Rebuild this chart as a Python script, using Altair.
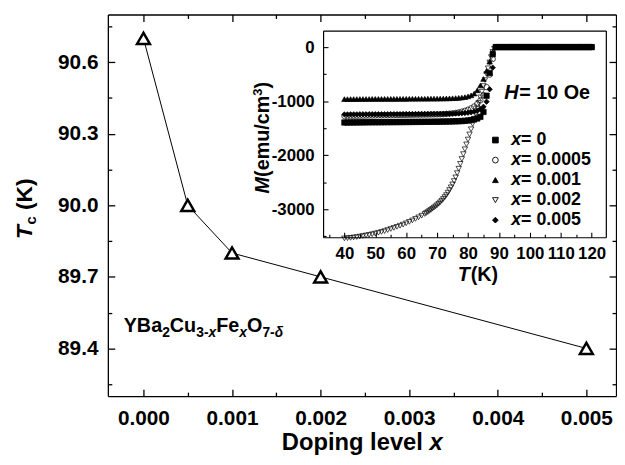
import altair as alt
import pandas as pd

FONT = "Liberation Sans"

# ---------------- main panel: Tc versus doping level ----------------
doping = [0.0, 0.0005, 0.001, 0.002, 0.005]
tc_k = [90.7, 90.0, 89.8, 89.7, 89.4]
x_label_values = [0.0, 0.001, 0.002, 0.003, 0.004, 0.005]
x_tick_values = [0.0, 0.0005, 0.001, 0.0015, 0.002, 0.0025, 0.003, 0.0035, 0.004, 0.0045, 0.005]
y_label_values = [89.4, 89.7, 90.0, 90.3, 90.6]
y_tick_values = [89.25, 89.4, 89.55, 89.7, 89.85, 90.0, 90.15, 90.3, 90.45, 90.6, 90.75]

# ---------------- inset: M(T) curves ----------------
temperature = [40, 41, 42, 43, 44, 45, 46, 47, 48, 49,
               50, 51, 52, 53, 54, 55, 56, 57, 58, 59,
               60, 61, 62, 63, 64, 65, 66, 67, 68, 69,
               70, 71, 72, 73, 74, 75, 76, 77, 78, 79,
               80, 81, 82, 83, 84, 85, 86, 87, 88, 89,
               90, 91, 92, 93, 94, 95, 96, 97, 98, 99,
               100, 101, 102, 103, 104, 105, 106, 107, 108, 109,
               110, 111, 112, 113, 114, 115, 116, 117, 118, 119, 120]
# the x = 0.002 curve is read more finely in its steep part
temperature_x0002 = [40, 41, 42, 43, 44, 45, 46, 47, 48, 49,
                     50, 51, 52, 53, 54, 55, 56, 57, 58, 59,
                     60, 61, 62, 63, 64, 65,
                     66, 66.5, 67, 67.5, 68, 68.5, 69, 69.5, 70, 70.5,
                     71, 71.5, 72, 72.5, 73, 73.5, 74, 74.5, 75, 75.5,
                     76, 76.5, 77, 77.5, 78, 78.5, 79, 79.5, 80, 80.5,
                     81, 81.5, 82, 82.5, 83, 83.5, 84, 84.5, 85, 85.5,
                     86, 86.5, 87, 87.5, 88, 88.5,
                     89, 90, 91, 92, 93, 94, 95, 96, 97, 98, 99,
                     100, 101, 102, 103, 104, 105, 106, 107, 108, 109,
                     110, 111, 112, 113, 114, 115, 116, 117, 118, 119, 120]
above_tc = [0] * 32  # M is zero from 89 K to 120 K

m_x0 = [-1395, -1395, -1394, -1394, -1393, -1393, -1392, -1392, -1391, -1391,
        -1390, -1390, -1389, -1389, -1388, -1388, -1387, -1387, -1386, -1386,
        -1385, -1385, -1384, -1384, -1383, -1383, -1382, -1382, -1381, -1380,
        -1380, -1379, -1378, -1377, -1376, -1375, -1373, -1371, -1368, -1364,
        -1358, -1350, -1338, -1320, -1290, -1200, -900, -480, -130] + above_tc
m_x00005 = [-1275, -1274, -1273, -1272, -1271, -1270, -1269, -1268, -1267, -1266,
            -1265, -1264, -1263, -1262, -1261, -1260, -1259, -1258, -1257, -1256,
            -1255, -1254, -1253, -1252, -1251, -1250, -1249, -1248, -1247, -1246,
            -1245, -1243, -1240, -1236, -1231, -1225, -1217, -1207, -1194, -1178,
            -1158, -1132, -1098, -1052, -985, -890, -740, -510, -220] + above_tc
m_x0001 = [-962, -962, -961, -961, -961, -960, -960, -960, -960, -959,
           -959, -959, -959, -958, -958, -958, -958, -957, -957, -957,
           -957, -956, -956, -956, -955, -955, -955, -954, -954, -953,
           -953, -952, -951, -950, -948, -946, -943, -939, -933, -925,
           -912, -892, -860, -800, -710, -590, -440, -270, -90] + above_tc
m_x0002 = [-3540, -3535, -3530, -3522, -3515, -3505, -3495, -3485, -3475, -3462,
           -3450, -3435, -3420, -3405, -3385, -3365, -3345, -3325, -3305, -3285,
           -3260, -3234, -3207, -3179, -3150, -3120,
           -3088, -3070, -3052, -3032, -3012, -2991, -2970, -2948, -2925, -2899,
           -2872, -2842, -2810, -2775, -2738, -2693, -2645, -2594, -2540, -2478,
           -2410, -2332, -2250, -2160, -2070, -1980, -1890, -1800, -1710, -1615,
           -1520, -1422, -1325, -1228, -1130, -1030, -930, -825, -720, -610,
           -500, -392, -285, -185, -90, -30] + above_tc
m_x0005 = [-1245, -1245, -1244, -1244, -1244, -1243, -1243, -1243, -1242, -1242,
           -1242, -1242, -1241, -1241, -1241, -1240, -1240, -1240, -1240, -1239,
           -1239, -1239, -1239, -1238, -1238, -1238, -1237, -1237, -1236, -1236,
           -1235, -1235, -1234, -1233, -1232, -1231, -1229, -1227, -1224, -1220,
           -1214, -1206, -1194, -1177, -1150, -1105, -1010, -780, -380] + above_tc

series_names = ["0", "0.0005", "0.001", "0.002", "0.005"]
series_temps = [temperature, temperature, temperature, temperature_x0002, temperature]
series_values = [m_x0, m_x00005, m_x0001, m_x0002, m_x0005]
series_shapes = ["square", "circle", "triangle-up", "triangle-down", "diamond"]
series_fills = ["black", "transparent", "black", "transparent", "black"]

t_label_values = [40, 50, 60, 70, 80, 90, 100, 110, 120]
t_tick_values = [35, 40, 45, 50, 55, 60, 65, 70, 75, 80, 85, 90, 95, 100, 105, 110, 115, 120]
m_label_values = [-3000, -2000, -1000, 0]
m_tick_values = [-3500, -3000, -2500, -2000, -1500, -1000, -500, 0]

# ---------------- tables ----------------
main_df = pd.DataFrame({"doping": doping, "tc": tc_k})
rows = []
for name, temps, vals in zip(series_names, series_temps, series_values):
    for t, m in zip(temps, vals):
        rows.append({"T": t, "M": m, "series": name})
inset_df = pd.DataFrame(rows)
legend_df = pd.DataFrame({"series": series_names})

# ---------------- geometry (page coordinates of plot origin) ----------------
OX, OY = 109, 12
W, H = 514, 386
IN_L, IN_R, IN_T, IN_B = 217.7, 503.7, 16.3, 225.3

xs_main = alt.Scale(domain=[-0.000402, 0.005335], nice=False, zero=False)
ys_main = alt.Scale(domain=[89.2, 90.8], nice=False, zero=False)
xs_in = alt.Scale(domain=[33.1, 124.6], range=[IN_L, IN_R], nice=False, zero=False)
ys_in = alt.Scale(domain=[-3518, 305], range=[IN_B, IN_T], nice=False, zero=False)

MAJ_X = "abs(datum.value*1000 - round(datum.value*1000)) < 0.01"
MAJ_Y = "abs(datum.value/0.3 - round(datum.value/0.3)) < 0.01"
MAJ_T = "datum.value % 10 == 0"
MAJ_M = "datum.value % 1000 == 0"


def cond(test, big, small):
    return {"condition": {"test": test, "value": big}, "value": small}


def tick_axis(orient, offset, values, test, big, small, domain=False, width=1.3):
    return alt.Axis(orient=orient, offset=offset, values=values, labels=False,
                    ticks=True, tickSize=cond(test, big, small), tickWidth=width,
                    domain=domain, domainWidth=width, title=None, grid=False)


def line_axis(orient, offset, width=1.3):
    return alt.Axis(orient=orient, offset=offset, labels=False, ticks=False,
                    domain=True, domainWidth=width, title=None, grid=False)


ONE = pd.DataFrame({"k": [0]})


def txt(s, xp, yp, size, italic=False, angle=None, baseline="alphabetic", align="left"):
    props = dict(text=s, font=FONT, fontSize=size, fontWeight="bold",
                 fontStyle="italic" if italic else "normal", align=align,
                 baseline=baseline, color="black")
    if angle is not None:
        props["angle"] = angle
    return alt.Chart(ONE).mark_text(**props).encode(
        x=alt.value(xp - OX), y=alt.value(yp - OY))


layers = []

# main line with labelled axes
layers.append(alt.Chart(main_df).mark_line(color="black", strokeWidth=1).encode(
    x=alt.X("doping:Q", scale=xs_main,
            axis=alt.Axis(orient="bottom", values=x_label_values, format=".3f",
                          labelFontSize=21, labelPadding=12, ticks=False, tickSize=0,
                          domain=True, domainWidth=1.3, labelFlush=False, title=None)),
    y=alt.Y("tc:Q", scale=ys_main,
            axis=alt.Axis(orient="left", values=y_label_values, format=".1f",
                          labelFontSize=21, labelPadding=10, ticks=False, tickSize=0,
                          domain=True, domainWidth=1.3, title=None)),
))
# main markers
layers.append(alt.Chart(main_df).mark_point(shape="triangle-up", size=170, filled=True,
                                             fill="white", stroke="black", strokeWidth=2.5,
                                             opacity=1).encode(
    x=alt.X("doping:Q", scale=xs_main, axis=None),
    y=alt.Y("tc:Q", scale=ys_main, axis=None),
))
# inward ticks at bottom and left of main frame
layers.append(alt.Chart(main_df).mark_point(opacity=0).encode(
    x=alt.X("doping:Q", scale=xs_main, axis=tick_axis("top", -H, x_tick_values, MAJ_X, 7, 4)),
    y=alt.Y("tc:Q", scale=ys_main, axis=tick_axis("right", -W, y_tick_values, MAJ_Y, 7, 4)),
))
# top and right frame with inward ticks
layers.append(alt.Chart(main_df).mark_point(opacity=0).encode(
    x=alt.X("doping:Q", scale=xs_main, axis=tick_axis("bottom", -H, x_tick_values, MAJ_X, 7, 4, domain=True)),
    y=alt.Y("tc:Q", scale=ys_main, axis=tick_axis("left", -W, y_tick_values, MAJ_Y, 7, 4, domain=True)),
))

# inset data
shape_scale = alt.Scale(domain=series_names, range=series_shapes)
fill_scale = alt.Scale(domain=series_names, range=series_fills)
layers.append(alt.Chart(inset_df).mark_point(filled=True, size=30, stroke="black",
                                              strokeWidth=0.7, opacity=1).encode(
    x=alt.X("T:Q", scale=xs_in,
            axis=alt.Axis(orient="bottom", offset=-(H - IN_B), values=t_label_values,
                          labelFontSize=17, labelPadding=9, ticks=False, tickSize=0,
                          domain=True, domainWidth=1.2, labelFlush=False, title=None)),
    y=alt.Y("M:Q", scale=ys_in,
            axis=alt.Axis(orient="left", offset=-IN_L, values=m_label_values,
                          labelExpr="'' + datum.value",
                          labelFontSize=17, labelPadding=9, ticks=False, tickSize=0,
                          domain=True, domainWidth=1.2, title=None)),
    shape=alt.Shape("series:N", scale=shape_scale, legend=None),
    fill=alt.Fill("series:N", scale=fill_scale, legend=None),
))
# inset inward ticks
layers.append(alt.Chart(inset_df).mark_point(opacity=0).encode(
    x=alt.X("T:Q", scale=xs_in, axis=tick_axis("top", -IN_B, t_tick_values, MAJ_T, 5, 3, width=1.1)),
    y=alt.Y("M:Q", scale=ys_in, axis=tick_axis("right", -(W - IN_L), m_tick_values, MAJ_M, 5, 3, width=1.1)),
))
# inset top / right frame
layers.append(alt.Chart(inset_df).mark_point(opacity=0).encode(
    x=alt.X("T:Q", scale=xs_in, axis=line_axis("bottom", -(H - IN_T), 1.2)),
    y=alt.Y("M:Q", scale=ys_in, axis=line_axis("left", -IN_R, 1.2)),
))

# inset legend
leg_y = alt.Y("series:N", scale=alt.Scale(type="point", domain=series_names,
                                          range=[139 - OY, 220 - OY], padding=0), axis=None)
layers.append(alt.Chart(legend_df).mark_point(filled=True, size=34, stroke="black",
                                               strokeWidth=0.9, opacity=1).encode(
    x=alt.value(501 - OX), y=leg_y,
    shape=alt.Shape("series:N", scale=shape_scale, legend=None),
    fill=alt.Fill("series:N", scale=fill_scale, legend=None),
))
layers.append(alt.Chart(legend_df).mark_text(text="x", font=FONT, fontSize=18, fontWeight="bold",
                                              fontStyle="italic", align="left", baseline="middle",
                                              color="black").encode(
    x=alt.value(517 - OX), y=leg_y))
layers.append(alt.Chart(legend_df).transform_calculate(label="'= ' + datum.series").mark_text(
    font=FONT, fontSize=18, fontWeight="bold", align="left", baseline="middle",
    color="black").encode(x=alt.value(527 - OX), y=leg_y, text="label:N"))

# inset annotations
layers += [
    txt("H", 510, 97, 20, italic=True),
    txt("= 10 Oe", 525, 97, 20),
    txt("T", 463, 282, 20, italic=True),
    txt("(K)", 476, 282, 20),
    txt("M", 272, 193, 20, italic=True, angle=270),
    txt("(emu/cm", 272, 176.3, 20, angle=270),
    txt("3", 265, 94.1, 13, angle=270),
    txt(")", 272, 86.9, 20, angle=270),
]

# main axis titles
layers += [
    txt("T", 32, 239, 23, italic=True, angle=270),
    txt("c", 36, 224.5, 15, angle=270),
    txt("(K)", 32, 209.8, 23, angle=270),
    txt("Doping level", 285, 452, 24),
    txt("x", 434.4, 452, 24, italic=True),
]

# compound formula
fx = 125.0
fb = 333
pieces = [("YBa", 20, False, 0, 38.9), ("2", 14, False, 5, 7.8), ("Cu", 20, False, 0, 26.7),
          ("3-", 14, False, 5, 12.4), ("x", 14, True, 5, 7.8), ("Fe", 20, False, 0, 23.3),
          ("x", 14, True, 5, 7.8), ("O", 20, False, 0, 15.6), ("7-", 14, False, 5, 12.4),
          ("δ", 14, True, 5, 8.0)]
for s, size, it, dy, wdt in pieces:
    layers.append(txt(s, fx, fb + dy, size, italic=it))
    fx += wdt

chart = alt.layer(*layers).resolve_scale(x="independent", y="independent").properties(
    width=W, height=H,
    autosize=alt.AutoSizeParams(type="none"),
    padding={"left": 101, "top": 4, "right": 1, "bottom": 59},
).configure_view(stroke=None).configure_axis(
    labelFont=FONT, labelFontWeight="bold", labelColor="black",
    domainColor="black", tickColor="black", grid=False,
)

chart.save("out.html", embed_options={"renderer": "svg", "actions": False})
